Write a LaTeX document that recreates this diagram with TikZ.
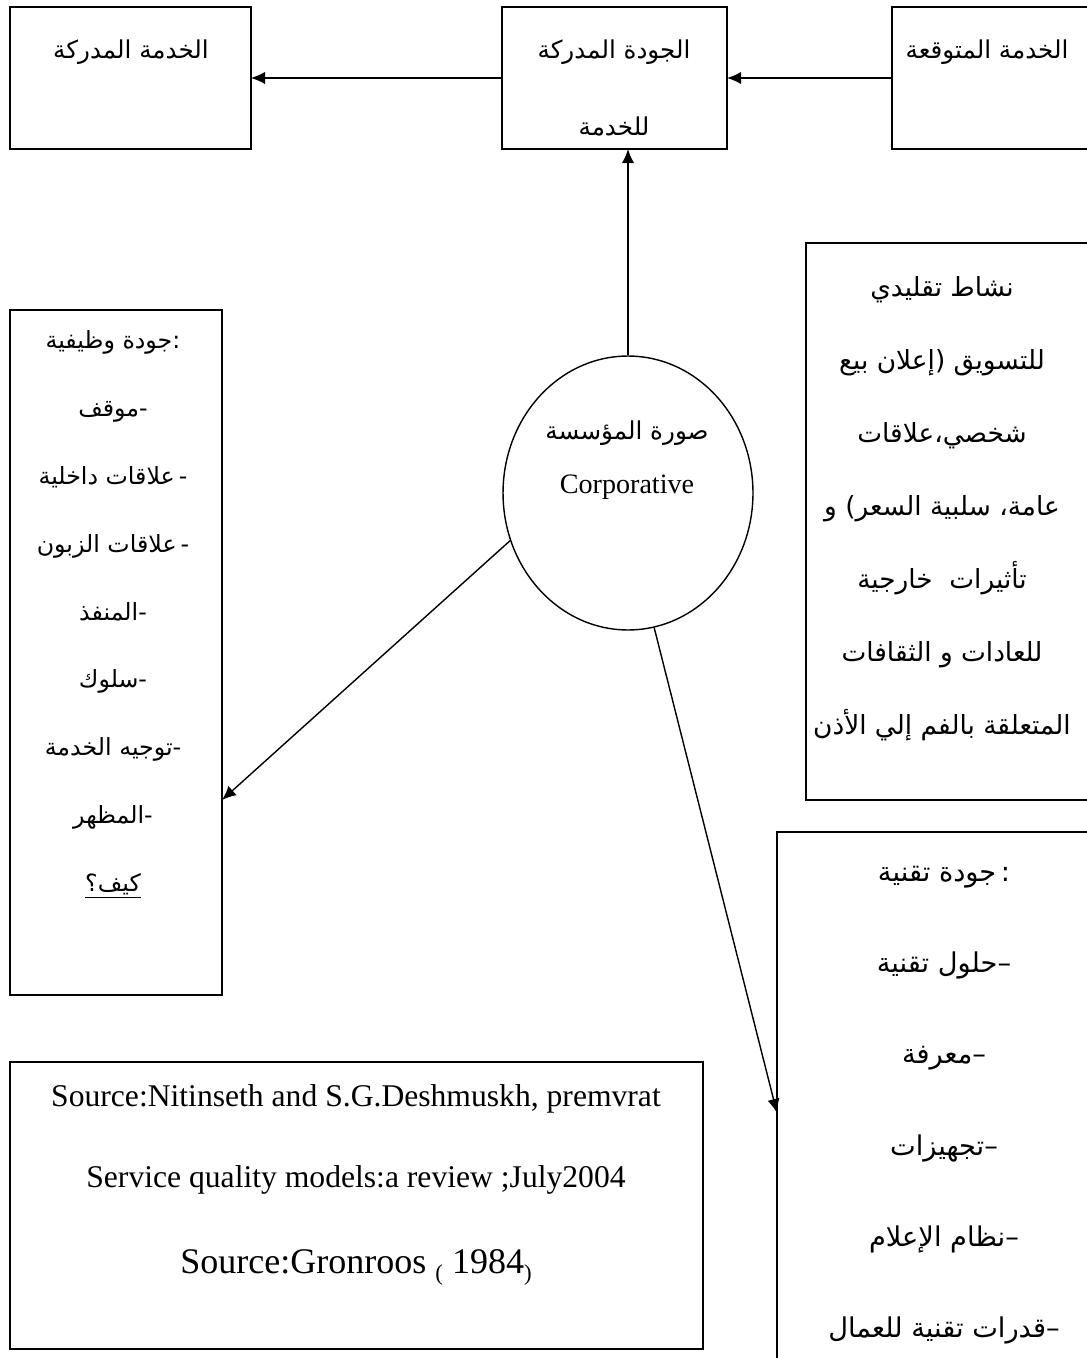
\documentclass[tikz,border=0pt]{standalone}
\usepackage{fontspec}
\setmainfont{Liberation Serif}
\newfontfamily\arabicfont[Script=Arabic]{DejaVu Sans}
\TeXXeTstate=1
\usetikzlibrary{positioning}
\usetikzlibrary{arrows.meta}
\usetikzlibrary{shapes.geometric}

\begin{document}
\begin{tikzpicture}[x=0.02cm,y=-0.02cm,>={Latex[length=8pt,width=7pt]},thick,
	box/.style={draw=black,rectangle,inner sep=0pt,outer sep=0pt},
	txt/.style={align=center,inner sep=0pt,anchor=north}]
	\useasboundingbox (0,0) rectangle (1086,1358);

	\node [box,minimum width=4.82cm,minimum height=2.84cm] at (130.5,78) (perc) {};
	\node [box,minimum width=4.5cm,minimum height=2.84cm] at (614.5,78) (qual) {};
	\node [box,minimum width=4cm,minimum height=2.84cm] at (992,78) (expect) {};
	\node [txt,font=\arabicfont\fontsize{14}{44}\selectfont] at (131,39) (perc_txt) {\beginR الخدمة المدركة\endR};
	\node [txt,font=\arabicfont\fontsize{14}{44}\selectfont] at (614,39) (qual_txt) {\beginR الجودة المدركة\endR\\\beginR للخدمة\endR};
	\node [txt,font=\arabicfont\fontsize{14}{44}\selectfont] at (987,39) (expect_txt) {\beginR الخدمة المتوقعة\endR};

	\node [draw=black,ellipse,inner sep=0pt,minimum width=5cm,minimum height=5.48cm] at (628,493) (image) {};
	\node [txt,font=\arabicfont\fontsize{14}{31}\selectfont] at (627,420) (image_txt) {\beginR صورة المؤسسة\endR\\{\rmfamily\fontsize{16}{31}\selectfont Corporative}};

	\node [box,minimum width=4.24cm,minimum height=13.7cm] at (116,652.5) (func) {};
	\node [txt,font=\arabicfont\fontsize{13.5}{38.6}\selectfont] at (113,330) (func_txt) {\beginR جودة وظيفية\endR:\\\beginR موقف\endR-\\\beginR علاقات داخلية\endR\,-\\\beginR علاقات الزبون\endR\,-\\\beginR المنفذ\endR-\\\beginR سلوك\endR-\\\beginR توجيه الخدمة\endR-\\\beginR المظهر\endR-\\\underline{كيف؟}};

	\node [box,minimum width=5.72cm,minimum height=11.14cm] at (949,521.5) (mkt) {};
	\node [txt,font=\arabicfont\fontsize{15}{41.5}\selectfont] at (942,276) (mkt_txt) {\beginR نشاط تقليدي\endR\\\beginR للتسويق (إعلان بيع\endR\\\beginR شخصي،علاقات\endR\\\beginR عامة، سلبية السعر) و\endR\\\beginR تأثيرات\ \ خارجية\endR\\\beginR للعادات و الثقافات\endR\\\beginR المتعلقة بالفم إلي الأذن\endR};

	\node [box,minimum width=6.3cm,minimum height=10.76cm] at (934.5,1101) (tech) {};
	\node [txt,font=\arabicfont\fontsize{15.5}{52}\selectfont] at (944,865) (tech_txt) {\beginR جودة تقنية\endR\,:\\\beginR حلول تقنية\endR–\\\beginR معرفة\endR–\\\beginR تجهيزات\endR–\\\beginR نظام الإعلام\endR–\\\beginR قدرات تقنية للعمال\endR–};

	\node [box,minimum width=13.86cm,minimum height=5.74cm] at (356.5,1205.5) (src) {};
	\node [txt,font=\fontsize{18}{46}\selectfont] at (356,1084) (src_txt) {Source:Nitinseth and S.G.Deshmuskh, premvrat\\Service quality models:a review ;July2004\\[3pt]{\fontsize{20.5}{46}\selectfont Source:Gronroos \raisebox{-4pt}{\fontsize{13}{13}\selectfont(} 1984\raisebox{-4pt}{\fontsize{13}{13}\selectfont)}}};

	\coordinate (func_in) at (222,800);
	\coordinate (tech_in) at (777,1113);

	\draw[->] (qual.west) -- (perc.east);
	\draw[->] (expect.west) -- (qual.east);
	\draw[->] (image.north) -- (image.north|-qual.south);
	\draw[->] (image.202) -- (func_in);
	\draw[->] (image.281) -- (tech_in);
\end{tikzpicture}
\end{document}
